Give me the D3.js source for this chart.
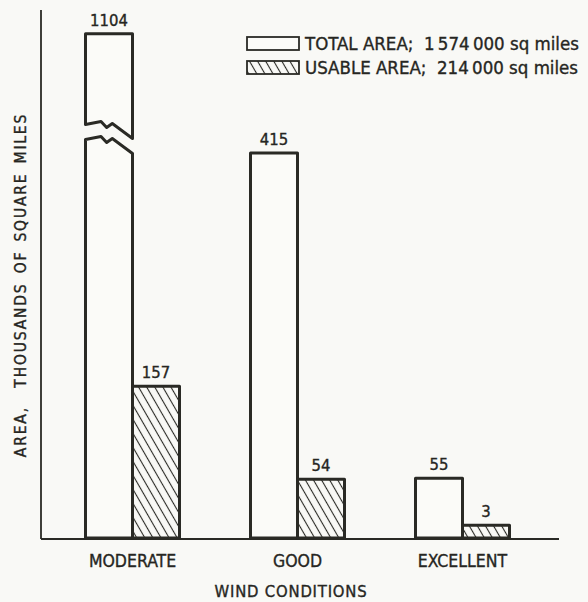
<!DOCTYPE html>
<html>
<head>
<meta charset="utf-8">
<script src="https://cdn.jsdelivr.net/npm/d3@7"></script>
<style>
  html, body { margin: 0; padding: 0; background: #f9f9f6; }
  svg { display: block; }
  text { white-space: pre; fill: #262622; stroke: #262622; stroke-width: 0.35; font-family: "DejaVu Sans Condensed", "Liberation Sans Narrow", sans-serif; }
</style>
</head>
<body>
<svg id="chart" width="588" height="602"></svg>
<script>
// ---- data ----
const categories = ["MODERATE", "GOOD", "EXCELLENT"];
const totalArea = [1104, 415, 55];
const usableArea = [157, 54, 3];
const seriesNames = ["TOTAL AREA;  1\u2009574\u2009000 sq miles", "USABLE AREA;  214\u2009000 sq miles"];
const xTitle = "WIND CONDITIONS";
const yTitle = "AREA,  THOUSANDS OF SQUARE MILES";
const breakValue = 430;

// ---- layout ----
const ink = "#2a2a25";
const svg = d3.select("#chart");

const defs = svg.append("defs");
defs.append("pattern")
  .attr("id", "hatch")
  .attr("patternUnits", "userSpaceOnUse")
  .attr("width", 7).attr("height", 7)
  .attr("patternTransform", "rotate(-30)")
  .append("line")
  .attr("x1", 3.5).attr("y1", 0).attr("x2", 3.5).attr("y2", 7)
  .attr("stroke", ink).attr("stroke-width", 1.1);

const x = d3.scalePoint().domain(categories).range([50, 545]).padding(0.5);
const sub = d3.scaleBand().domain([0, 1]).range([-47, 47]);
const y = d3.scaleLinear().domain([-11, 415]).range([538, 153]);
const gapPx = 15;
const yUpper = d3.scaleLinear().domain([breakValue, 1280]).range([y(breakValue) - gapPx, 10]);

const baseY = y(-11);

// axes lines
svg.append("line")
  .attr("x1", 41).attr("x2", 41).attr("y1", 10).attr("y2", baseY + 1)
  .attr("stroke", ink).attr("stroke-width", 1.8);
svg.append("line")
  .attr("x1", 41).attr("x2", 559).attr("y1", baseY + 1).attr("y2", baseY + 1)
  .attr("stroke", ink).attr("stroke-width", 1.8);

function zig(x0, w, yl) {
  return [[x0, yl], [x0 + 0.33 * w, yl - 3], [x0 + 0.45 * w, yl + 3], [x0 + 0.57 * w, yl - 1], [x0 + w, yl + 14]];
}
const line = d3.line();

const series = [totalArea, usableArea];
const g = svg.append("g");

categories.forEach((c, i) => {
  series.forEach((vals, s) => {
    const v = vals[i];
    const x0 = x(c) + sub(s);
    const w = sub.bandwidth();
    const fill = s === 0 ? "#fbfbf8" : "url(#hatch)";
    let labelY;
    if (v > breakValue) {
      const yl = y(breakValue);
      const lower = [[x0, baseY]].concat(zig(x0, w, yl)).concat([[x0 + w, baseY]]);
      g.append("path").attr("d", line(lower) + "Z")
        .attr("fill", fill).attr("stroke", ink).attr("stroke-width", 3).attr("stroke-linejoin", "round");
      const yu = yl - gapPx;
      const top = yUpper(v);
      const z = zig(x0, w, yu).reverse();
      const upper = [[x0, yu], [x0, top], [x0 + w, top]].concat(z);
      g.append("path").attr("d", line(upper) + "Z")
        .attr("fill", fill).attr("stroke", ink).attr("stroke-width", 3).attr("stroke-linejoin", "round");
      labelY = top - 8;
    } else {
      g.append("rect")
        .attr("x", x0).attr("y", y(v)).attr("width", w).attr("height", baseY - y(v))
        .attr("fill", fill).attr("stroke", ink).attr("stroke-width", 3).attr("stroke-linejoin", "round");
      labelY = y(v) - 8;
    }
    g.append("text").attr("x", x0 + w / 2).attr("y", labelY)
      .attr("text-anchor", "middle").attr("font-size", 16.5).text(v);
  });
});

// category labels
svg.append("g").selectAll("text").data(categories).join("text")
  .attr("x", d => x(d)).attr("y", 567)
  .attr("text-anchor", "middle").attr("font-size", 17.5).text(d => d);

svg.append("text").attr("x", 291).attr("y", 597)
  .attr("text-anchor", "middle").attr("font-size", 16.5).attr("letter-spacing", 0.8).text(xTitle);

svg.append("text")
  .attr("transform", "translate(26,285) rotate(-90)")
  .attr("text-anchor", "middle").attr("font-size", 15.5).attr("letter-spacing", 1.8)
  .attr("word-spacing", 3).text(yTitle);

// legend
const leg = svg.append("g");
seriesNames.forEach((name, s) => {
  const ly = 37 + s * 24;
  leg.append("rect").attr("x", 247).attr("y", ly).attr("width", 52).attr("height", 13)
    .attr("fill", s === 0 ? "#fbfbf8" : "url(#hatch)").attr("stroke", ink).attr("stroke-width", 1.8);
  leg.append("text").attr("x", 305).attr("y", ly + 13).attr("font-size", 18.5).text(name);
});
</script>
</body>
</html>
